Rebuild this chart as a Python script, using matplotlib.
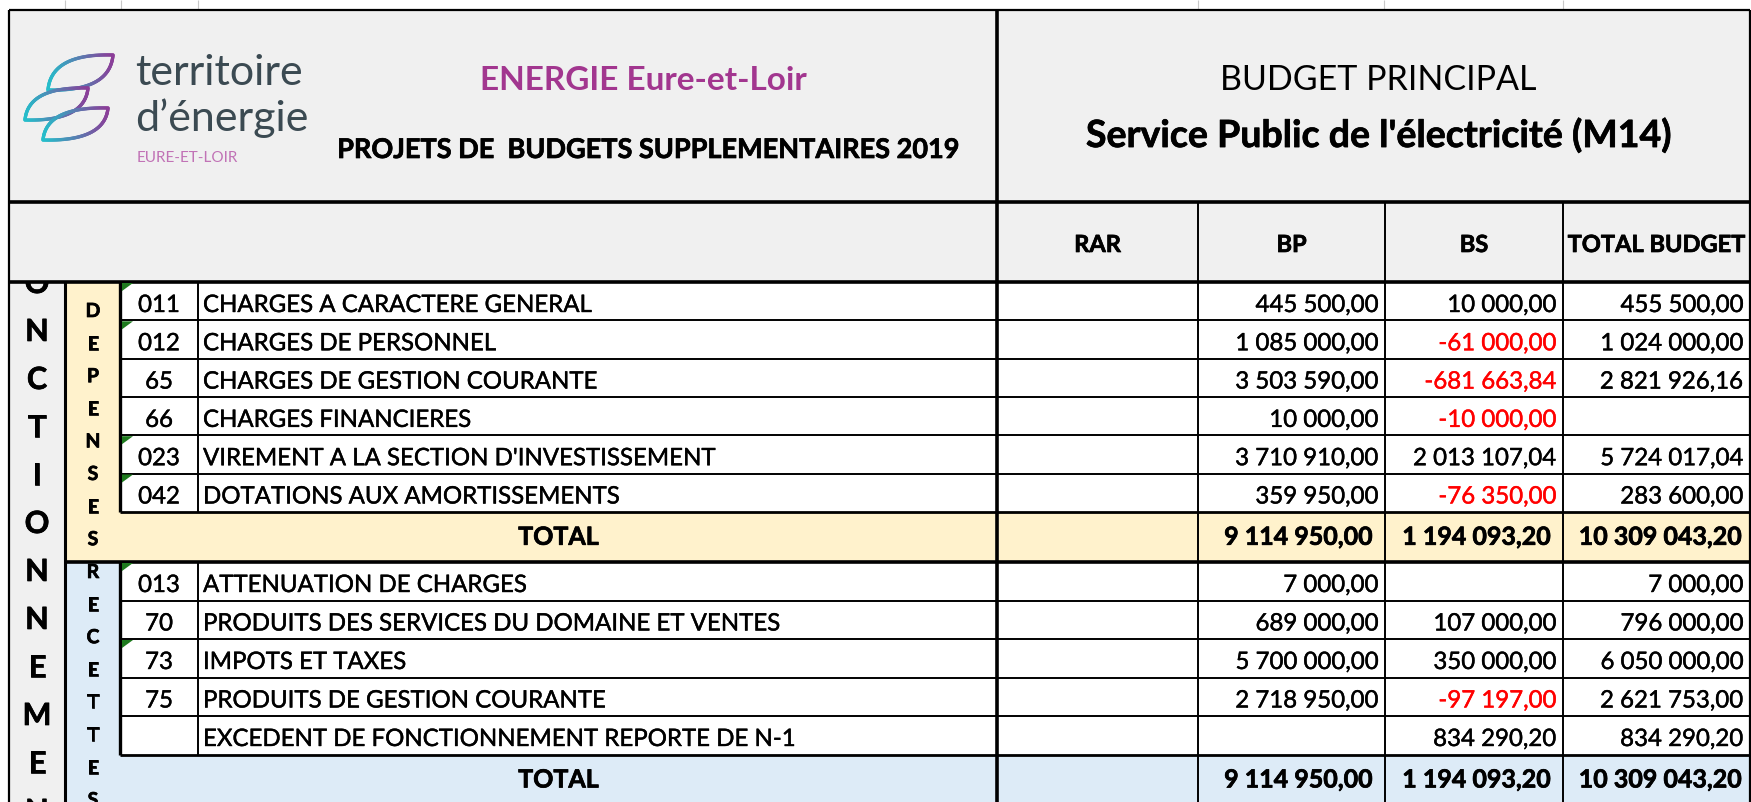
import numpy as np
import matplotlib

matplotlib.use("Agg")
import matplotlib.pyplot as plt
import matplotlib.patheffects as pe
from matplotlib.collections import LineCollection
from matplotlib.patches import Rectangle, Polygon

# ---- data -------------------------------------------------------------
columns = ["RAR", "BP", "BS", "TOTAL BUDGET"]

dep_codes = ["011", "012", "65", "66", "023", "042"]
dep_labels = [
    "CHARGES A CARACTERE GENERAL",
    "CHARGES DE PERSONNEL",
    "CHARGES DE GESTION COURANTE",
    "CHARGES FINANCIERES",
    "VIREMENT A LA SECTION D'INVESTISSEMENT",
    "DOTATIONS AUX AMORTISSEMENTS",
]
dep_bp = [445500.00, 1085000.00, 3503590.00, 10000.00, 3710910.00, 359950.00]
dep_bs = [10000.00, -61000.00, -681663.84, -10000.00, 2013107.04, -76350.00]
dep_total = [455500.00, 1024000.00, 2821926.16, None, 5724017.04, 283600.00]
dep_flag = [True, True, False, False, True, True]
dep_sum = [9114950.00, 1194093.20, 10309043.20]

rec_codes = ["013", "70", "73", "75", ""]
rec_labels = [
    "ATTENUATION DE CHARGES",
    "PRODUITS DES SERVICES DU DOMAINE ET VENTES",
    "IMPOTS ET TAXES",
    "PRODUITS DE GESTION COURANTE",
    "EXCEDENT DE FONCTIONNEMENT REPORTE DE N-1",
]
rec_bp = [7000.00, 689000.00, 5700000.00, 2718950.00, None]
rec_bs = [None, 107000.00, 350000.00, -97197.00, 834290.20]
rec_total = [7000.00, 796000.00, 6050000.00, 2621753.00, 834290.20]
rec_flag = [True, False, True, False, False]
rec_sum = [9114950.00, 1194093.20, 10309043.20]

FONT = "Lato"
GREY = "#f0f0f0"
YELLOW = "#fff2cc"
BLUE = "#ddebf7"
RED = "#ff0000"
DATA_SIZE = 17.3


def fmt(value):
    if value is None:
        return ""
    s = f"{abs(value):,.2f}".replace(",", " ").replace(".", ",")
    return ("-" if value < 0 else "") + s


def heavy(color, lw=0.3):
    # slightly thicker strokes, closer to the screen-rendered Calibri
    return [pe.withStroke(linewidth=lw, foreground=color)]


# ---- layout (pixels) --------------------------------------------------
W, H = 1751, 802
x_left, x_fonc, x_sec, x_code, x_lab = 9, 65, 120, 198, 997
x_cols = [997, 1198, 1385, 1563, 1750]
y_top, y_head, y_colh = 10, 202, 282
rh_dep, rh_rec = 38.3, 38.5
y_dep0 = 282
y_dep_tot = y_dep0 + rh_dep * len(dep_codes)
y_rec0 = 562
y_rec_tot = y_rec0 + rh_rec * len(rec_codes)

fig = plt.figure(figsize=(W / 100, H / 100), dpi=100)
ax = fig.add_axes([0, 0, 1, 1])
ax.set_xlim(0, W)
ax.set_ylim(H, 0)
ax.axis("off")


def rect(x0, y0, x1, y1, color, z=1):
    ax.add_patch(Rectangle((x0, y0), x1 - x0, y1 - y0, facecolor=color,
                           edgecolor="none", zorder=z))


def hline(y, x0, x1, lw=1.4, color="black"):
    ax.plot([x0, x1], [y, y], color=color, lw=lw, solid_capstyle="butt", zorder=3)


def vline(x, y0, y1, lw=1.4, color="black"):
    ax.plot([x, x], [y0, y1], color=color, lw=lw, solid_capstyle="butt", zorder=3)


# fills (header drawn above the stacked letters so it hides them)
rect(x_left, y_top, x_cols[-1], y_colh, GREY, z=1.8)
rect(x_left, y_colh, x_fonc, H, GREY)
rect(x_fonc, y_colh, x_sec, y_rec0, YELLOW)
rect(x_sec, y_dep_tot, x_cols[-1], y_rec0, YELLOW)
rect(x_fonc, y_rec0, x_sec, H, BLUE)
rect(x_sec, y_rec_tot, x_cols[-1], H, BLUE)

# faint sheet gridlines above the table
for gx in [65, 121, 198, 1198, 1384, 1563]:
    vline(gx, 0, y_top, lw=0.8, color="#c8c8c8")

# outer / major borders
hline(y_top, x_left, x_cols[-1], lw=1.6)
vline(x_left, y_top, H, lw=1.6)
vline(x_cols[-1], y_top, H, lw=1.6)
vline(x_lab, y_top, H, lw=2.6)
hline(y_head, x_left, x_cols[-1], lw=2.6)
hline(y_colh, x_left, x_cols[-1], lw=2.6)
vline(x_fonc, y_colh, H, lw=2.2)
vline(x_sec, y_colh, y_dep_tot, lw=2.4)
vline(x_sec, y_rec0, y_rec_tot, lw=2.4)
hline(y_dep_tot, x_sec, x_cols[-1], lw=2.0)
hline(y_rec0, x_fonc, x_cols[-1], lw=2.6)
hline(y_rec_tot, x_sec, x_cols[-1], lw=2.0)
for cx in x_cols[1:-1]:
    vline(cx, y_head, H, lw=1.4)
vline(x_code, y_dep0, y_dep_tot, lw=1.4)
vline(x_code, y_rec0, y_rec_tot, lw=1.4)


def draw_block(y0, rh, codes, labels, bp, bs, tot, flags):
    for i in range(len(codes)):
        top = y0 + rh * i
        if i > 0:
            hline(top, x_sec, x_cols[-1], lw=1.4)
        base = top + 30
        ax.text((x_sec + x_code) / 2, base, codes[i], ha="center", va="baseline",
                fontsize=DATA_SIZE, family=FONT, zorder=4, path_effects=heavy("black"))
        ax.text(x_code + 5, base, labels[i], ha="left", va="baseline",
                fontsize=DATA_SIZE, family=FONT, zorder=4, path_effects=heavy("black"))
        for j, v in enumerate([bp[i], bs[i], tot[i]]):
            color = RED if (v is not None and v < 0) else "black"
            ax.text(x_cols[j + 2] - 7, base, fmt(v), ha="right", va="baseline",
                    fontsize=DATA_SIZE, family=FONT, zorder=4, color=color,
                    path_effects=heavy(color))
        if flags[i]:
            ax.add_patch(Polygon([[x_sec + 2, top + 1], [x_sec + 13, top + 1],
                                  [x_sec + 2, top + 9]], closed=True,
                                 facecolor="#1e7a1e", edgecolor="none", zorder=5))


def draw_total(top, sums):
    base = top + 33
    ax.text((x_sec + x_lab) / 2, base, "TOTAL", ha="center", va="baseline",
            fontsize=18, family=FONT, fontweight="bold", zorder=4,
            path_effects=heavy("black", 0.5))
    pads = [12, 12, 8]
    for j, v in enumerate(sums):
        ax.text(x_cols[j + 2] - pads[j], base, fmt(v), ha="right", va="baseline",
                fontsize=18, family=FONT, fontweight="bold", zorder=4,
                path_effects=heavy("black", 0.5))


draw_block(y_dep0, rh_dep, dep_codes, dep_labels, dep_bp, dep_bs, dep_total, dep_flag)
draw_total(y_dep_tot, dep_sum)
draw_block(y_rec0, rh_rec, rec_codes, rec_labels, rec_bp, rec_bs, rec_total, rec_flag)
draw_total(y_rec_tot, rec_sum)

# column headers
for j, name in enumerate(columns):
    ax.text((x_cols[j] + x_cols[j + 1]) / 2, y_colh - 30, name, ha="center",
            va="baseline", fontsize=17, family=FONT, fontweight="bold", zorder=4,
            path_effects=heavy("black", 0.5))


# vertical stacked letters
def stacked(word, xc, yc0, step, size, cap):
    for k, ch in enumerate(word):
        ax.text(xc, yc0 + step * k + cap / 2, ch, ha="center", va="baseline",
                fontsize=size, family=FONT, fontweight="bold", zorder=1.5,
                path_effects=heavy("black", 0.5))


stacked("FONCTIONNEMENT", 37, 234, 48, 22, 22)
stacked("DEPENSES", 93, 310, 32.6, 14, 14)
stacked("RECETTES", 93, 571, 32.6, 14, 14)

# titles
ax.text(643, 80, "ENERGIE Eure-et-Loir", ha="center", va="center", fontsize=24,
        family=FONT, fontweight="bold", color="#a2368f", zorder=4)
ax.text(648, 150, "PROJETS DE  BUDGETS SUPPLEMENTAIRES 2019", ha="center",
        va="center", fontsize=19.5, family=FONT, fontweight="bold", zorder=4,
        path_effects=heavy("black", 0.5))
ax.text(1378, 80, "BUDGET PRINCIPAL", ha="center", va="center", fontsize=24.5,
        family=FONT, zorder=4)
ax.text(1378, 135, "Service Public de l'électricité (M14)", ha="center",
        va="center", fontsize=27, family=FONT, fontweight="bold", zorder=4,
        path_effects=heavy("black", 0.5))

# logo
ax.text(135, 85, "territoire", ha="left", va="baseline", fontsize=31,
        family=FONT, color="#3b4a52", zorder=4)
ax.text(135, 131, "d\u2019énergie", ha="left", va="baseline", fontsize=31,
        family=FONT, color="#3b4a52", zorder=4)
ax.text(137, 162, "EURE-ET-LOIR", ha="left", va="baseline", fontsize=11,
        family=FONT, color="#c173b6", zorder=4)

cmap = matplotlib.colors.LinearSegmentedColormap.from_list("logo", ["#25bfcb", "#8c3d98"])
for (lx, ly), (tx, ty) in [((48, 90), (113, 55)), ((25, 120), (88, 88)),
                           ((43, 140), (108, 108))]:
    s = np.linspace(0, 1, 80)[:, None]
    cu = np.array([lx + 0.05 * (tx - lx), ty - 0.05 * (ly - ty)])
    cl = np.array([lx + 0.95 * (tx - lx), ly + 0.05 * (ly - ty)])
    L, T = np.array([lx, ly]), np.array([tx, ty])
    upper = (1 - s) ** 2 * L + 2 * s * (1 - s) * cu + s ** 2 * T
    lower = (1 - s) ** 2 * T + 2 * s * (1 - s) * cl + s ** 2 * L
    pts = np.vstack([upper, lower])
    segs = np.stack([pts[:-1], pts[1:]], axis=1)
    xs = (segs[:, :, 0].mean(axis=1) - lx) / (tx - lx)
    lc = LineCollection(segs, colors=cmap(np.clip(xs, 0, 1)), linewidths=2.4,
                        capstyle="round", joinstyle="round", zorder=4)
    ax.add_collection(lc)

fig.savefig("out.png", dpi=100)
